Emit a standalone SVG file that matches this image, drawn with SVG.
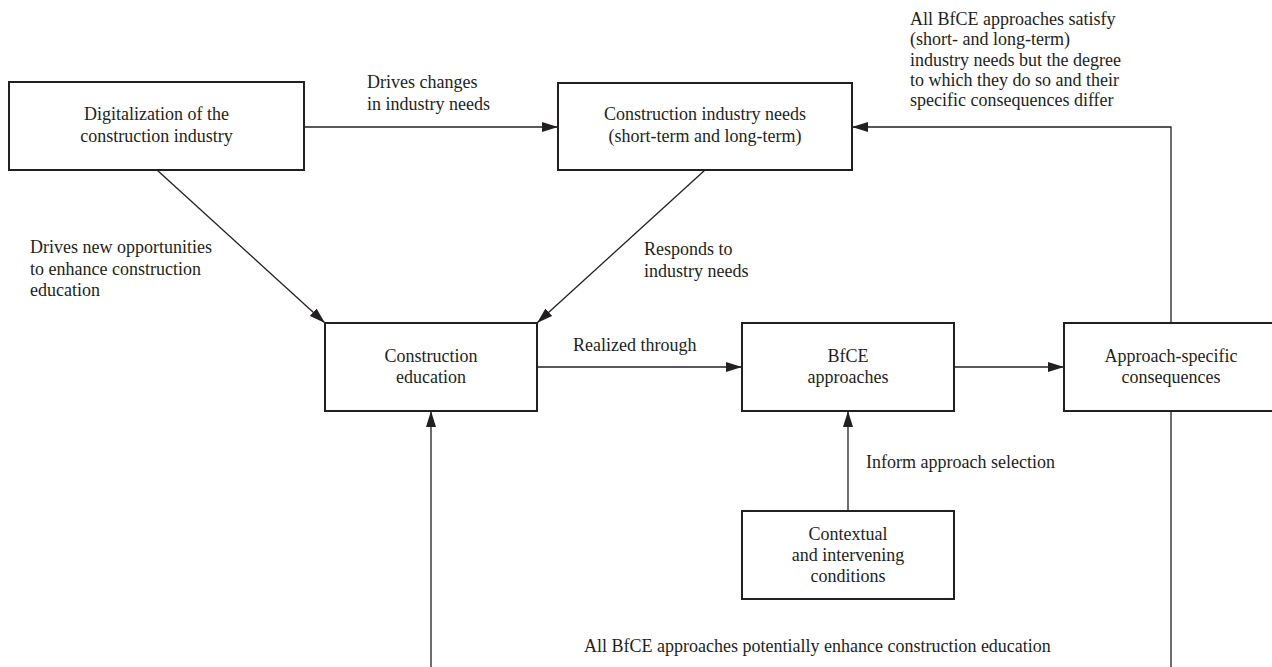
<svg xmlns="http://www.w3.org/2000/svg" width="1272" height="667" viewBox="0 0 1272 667">
<style>
.box{fill:#fff;stroke:#231f20;stroke-width:2}
.t{font-family:"Liberation Serif","Times New Roman",serif;font-size:18px;fill:#231f20}
.c{text-anchor:middle}
.ln{fill:none;stroke:#231f20;stroke-width:1.3}
</style>
<defs>
<marker id="ah" viewBox="0 0 16 10" refX="16" refY="5" markerWidth="16" markerHeight="10" orient="auto" markerUnits="userSpaceOnUse">
<path d="M0,0 L16,5 L0,10 z" fill="#231f20"/>
</marker>
</defs>
<rect width="1272" height="667" fill="#fff"/>
<g id="connectors">
<line class="ln" x1="304" y1="127" x2="558" y2="127" marker-end="url(#ah)"/>
<polyline class="ln" points="1171,323 1171,127 852,127" marker-end="url(#ah)"/>
<line class="ln" x1="157" y1="170" x2="325" y2="323" marker-end="url(#ah)"/>
<line class="ln" x1="705" y1="170" x2="537" y2="323" marker-end="url(#ah)"/>
<line class="ln" x1="537" y1="367" x2="742" y2="367" marker-end="url(#ah)"/>
<line class="ln" x1="954" y1="367" x2="1064" y2="367" marker-end="url(#ah)"/>
<line class="ln" x1="848" y1="511" x2="848" y2="411" marker-end="url(#ah)"/>
<line class="ln" x1="431" y1="680" x2="431" y2="411" marker-end="url(#ah)"/>
<line class="ln" x1="1171" y1="411" x2="1171" y2="680"/>
<text class="t" x="367" y="88">Drives changes</text>
<text class="t" x="367" y="110">in industry needs</text>
<text class="t" x="910" y="25">All BfCE approaches satisfy</text>
<text class="t" x="910" y="45.3">(short- and long-term)</text>
<text class="t" x="910" y="65.5">industry needs but the degree</text>
<text class="t" x="910" y="85.8">to which they do so and their</text>
<text class="t" x="910" y="106">specific consequences differ</text>
<text class="t" x="30" y="253">Drives new opportunities</text>
<text class="t" x="30" y="275">to enhance construction</text>
<text class="t" x="30" y="296">education</text>
<text class="t" x="644" y="255">Responds to</text>
<text class="t" x="644" y="277">industry needs</text>
<text class="t" x="573" y="351">Realized through</text>
<text class="t" x="866" y="468">Inform approach selection</text>
<text class="t" x="584" y="652">All BfCE approaches potentially enhance construction education</text>
</g>
<g id="node-digitalization">
<rect class="box" x="9" y="82" width="295" height="88"/>
<text class="t c" x="156.5" y="120">Digitalization of the</text>
<text class="t c" x="156.5" y="142">construction industry</text>
</g>
<g id="node-industry-needs">
<rect class="box" x="558" y="83" width="294" height="87"/>
<text class="t c" x="705" y="120">Construction industry needs</text>
<text class="t c" x="705" y="142">(short-term and long-term)</text>
</g>
<g id="node-construction-education">
<rect class="box" x="325" y="323" width="212" height="88"/>
<text class="t c" x="431" y="362">Construction</text>
<text class="t c" x="431" y="383">education</text>
</g>
<g id="node-bfce">
<rect class="box" x="742" y="323" width="212" height="88"/>
<text class="t c" x="848" y="362">BfCE</text>
<text class="t c" x="848" y="383">approaches</text>
</g>
<g id="node-consequences">
<rect class="box" x="1064" y="323" width="214" height="88"/>
<text class="t c" x="1171" y="362">Approach-specific</text>
<text class="t c" x="1171" y="383">consequences</text>
</g>
<g id="node-contextual">
<rect class="box" x="742" y="511" width="212" height="88"/>
<text class="t c" x="848" y="540">Contextual</text>
<text class="t c" x="848" y="561">and intervening</text>
<text class="t c" x="848" y="582">conditions</text>
</g>
</svg>
